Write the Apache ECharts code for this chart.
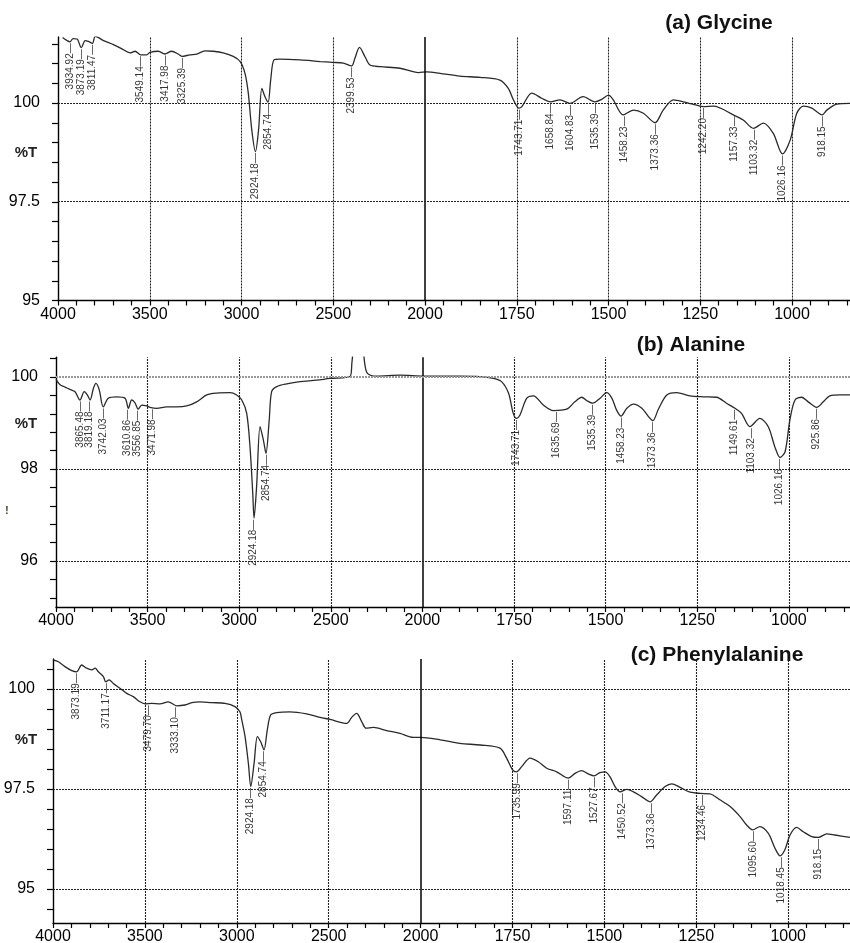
<!DOCTYPE html>
<html>
<head>
<meta charset="utf-8">
<script src="https://cdn.jsdelivr.net/npm/echarts@6/dist/echarts.min.js"></script>
<style>
  html, body { margin: 0; background: #fff; }
  #main { width: 850px; height: 943px; }
</style>
</head>
<body>
<div id="main"></div>
<script>
// (a) Glycine
var glyWn = [3975,3950,3935,3918,3896,3873,3852,3835,3812,3797,3752,3698,3652,3607,3580,3549,3517,3499,3453,3418,3381,3345,3325,3281,3244,3199,3154,3100,3045,3007,2981,2963,2944,2924,2907,2889,2872,2855,2841,2823,2790,2680,2571,2505,2445,2400,2382,2357,2327,2300,2245,2136,2036,1995,1959,1905,1850,1796,1773,1759,1744,1736,1709,1682,1659,1632,1605,1569,1537,1519,1500,1487,1460,1432,1405,1373,1351,1323,1296,1251,1242,1214,1160,1133,1105,1078,1051,1026,1005,987,969,946,918,905,878,842];
var glyT = [101.66,101.58,101.55,101.63,101.62,101.40,101.58,101.56,101.51,101.69,101.58,101.48,101.37,101.27,101.31,101.22,101.22,101.28,101.31,101.24,101.31,101.24,101.18,101.22,101.24,101.32,101.31,101.27,101.18,101.05,100.75,100.25,99.32,98.77,99.32,100.37,100.16,100.02,100.58,101.09,101.11,101.09,101.05,101.03,101.01,100.94,101.13,101.41,101.17,100.96,100.92,100.88,100.77,100.79,100.75,100.68,100.65,100.58,100.37,100.08,99.87,99.91,100.25,100.12,100.03,100.08,99.99,100.16,100.03,100.09,100.20,100.08,99.70,99.82,99.74,99.50,99.82,100.08,100.03,99.92,99.91,99.92,99.70,99.57,99.36,99.49,99.23,98.71,99.06,99.74,99.92,99.87,99.70,99.82,99.97,99.99];
var glyPk = [3934.92,3873.19,3811.47,3549.14,3417.98,3325.39,2924.18,2854.74,2399.53,1743.71,1658.84,1604.83,1535.39,1458.23,1373.36,1242.20,1157.33,1103.32,1026.16,918.15];
var glyPkT = [101.55,101.40,101.51,101.22,101.24,101.18,98.77,100.02,100.94,99.87,100.03,99.99,100.03,99.70,99.50,99.91,99.70,99.36,98.71,99.70];

// (b) Alanine
var alaWn = [4000,3978,3951,3924,3896,3869,3846,3829,3814,3796,3782,3764,3742,3715,3669,3623,3605,3587,3569,3551,3532,3505,3487,3450,3396,3341,3287,3232,3177,3123,3050,3014,2986,2959,2941,2926,2919,2905,2886,2868,2854,2836,2823,2795,2741,2668,2577,2504,2395,2385,2375,2360,2340,2325,2315,2300,2250,2122,1995,1952,1897,1843,1806,1784,1765,1752,1743,1734,1715,1697,1670,1643,1606,1584,1565,1552,1535,1515,1497,1483,1470,1458,1442,1424,1401,1383,1371,1356,1333,1306,1270,1233,1197,1170,1147,1129,1106,1079,1056,1038,1024,1010,997,983,965,947,924,906,888,860,833];
var alaT = [99.95,99.83,99.78,99.73,99.68,99.50,99.68,99.61,99.50,99.75,99.86,99.72,99.35,99.54,99.57,99.54,99.32,99.50,99.44,99.30,99.39,99.37,99.34,99.32,99.35,99.35,99.37,99.46,99.61,99.65,99.66,99.61,99.50,99.21,98.48,97.47,96.93,97.62,98.92,98.63,98.34,99.07,99.68,99.79,99.85,99.90,99.93,99.97,100.01,100.30,100.70,101.00,101.00,100.70,100.30,100.08,100.02,100.04,100.02,100.02,100.02,100.01,99.97,99.90,99.65,99.21,99.10,99.17,99.54,99.59,99.39,99.27,99.30,99.46,99.56,99.49,99.43,99.54,99.66,99.54,99.28,99.15,99.32,99.41,99.32,99.14,99.05,99.30,99.61,99.66,99.59,99.57,99.56,99.43,99.32,99.21,98.92,99.10,98.92,98.48,98.25,98.38,99.07,99.50,99.56,99.46,99.34,99.46,99.59,99.61,99.61];
var alaPk = [3865.48,3819.18,3742.03,3610.86,3556.85,3471.98,2924.18,2854.74,1743.71,1635.69,1535.39,1458.23,1373.36,1149.61,1103.32,1026.16,925.86];
var alaPkT = [99.50,99.50,99.35,99.32,99.30,99.33,96.93,98.34,99.10,99.27,99.43,99.15,99.05,99.32,98.92,98.25,99.34];

// (c) Phenylalanine
var pheWn = [4000,3971,3935,3898,3871,3844,3817,3789,3771,3753,3726,3713,3695,3672,3636,3599,3563,3527,3499,3463,3418,3373,3327,3282,3245,3200,3137,3064,3010,2983,2973,2955,2937,2924,2906,2888,2870,2852,2834,2816,2783,2711,2620,2547,2493,2402,2375,2348,2320,2297,2257,2185,2112,2040,2000,1947,1893,1838,1784,1766,1750,1739,1725,1702,1680,1657,1630,1598,1580,1562,1544,1528,1512,1498,1485,1471,1457,1439,1421,1399,1376,1358,1335,1317,1294,1267,1240,1213,1186,1158,1131,1113,1097,1077,1054,1036,1022,1009,995,977,959,936,918,895,873,832];
var pheT = [100.73,100.68,100.56,100.46,100.43,100.60,100.52,100.48,100.52,100.43,100.31,100.18,100.23,100.14,100.02,99.89,99.81,99.68,99.63,99.64,99.63,99.68,99.58,99.60,99.66,99.68,99.66,99.64,99.56,99.43,99.23,98.81,98.14,97.56,98.14,98.81,98.68,98.48,98.98,99.35,99.41,99.43,99.38,99.29,99.24,99.14,99.29,99.39,99.18,99.02,99.04,98.96,98.89,98.79,98.79,98.73,98.64,98.60,98.52,98.27,97.98,97.93,98.06,98.27,98.18,98.02,97.93,97.77,97.89,97.96,97.88,97.83,97.91,97.93,97.81,97.56,97.43,97.49,97.43,97.31,97.18,97.35,97.56,97.63,97.54,97.42,97.39,97.38,97.23,97.06,96.81,96.60,96.48,96.56,96.39,96.02,95.83,95.98,96.35,96.54,96.43,96.31,96.29,96.38,96.35,96.29];
var phePk = [3873.19,3711.17,3479.70,3333.10,2924.18,2854.74,1735.99,1597.11,1527.67,1450.52,1373.36,1234.46,1095.60,1018.45,918.15];
var phePkT = [100.43,100.18,99.63,99.58,97.56,98.48,97.93,97.77,97.83,97.43,97.18,97.39,96.48,95.83,96.29];

var FONT = 'Liberation Sans, Arial, sans-serif';
var X_MAX = 8.8;

// the x scale changes at 2000 cm-1: 500 per unit above, 250 per unit below
function wnToPos(w) { return w >= 2000 ? (4000 - w) / 500 : 4 + (2000 - w) / 250; }
function posToWn(t) { return t <= 4 ? 4000 - 500 * t : 2000 - 250 * (t - 4); }

var panels = [
  { title: '(a) Glycine', wn: glyWn, pt: glyT, pk: glyPk, pkT: glyPkT,
    left: 58, ppx: 91.75, y100: 103, ppy: 39.5,
    lineMin: 95, lineMax: 101.67, tickMin: 95, tickMax: 101.5, step: 0.5, labelStep: 2.5,
    hLines: [[100, '#222'], [97.5, '#222']], titleX: 719, titleY: 23, pctY: 153 },
  { title: '(b) Alanine', wn: alaWn, pt: alaT, pk: alaPk, pkT: alaPkT,
    left: 56, ppx: 91.6, y100: 377, ppy: 46,
    lineMin: 95, lineMax: 100.43, tickMin: 95.2, tickMax: 100.4, step: 0.4, labelStep: 2,
    hLines: [[100, '#999'], [98, '#222'], [96, '#222']], titleX: 691, titleY: 345, pctY: 424 },
  { title: '(c) Phenylalanine', wn: pheWn, pt: pheT, pk: phePk, pkT: phePkT,
    left: 53, ppx: 91.9, y100: 689, ppy: 40,
    lineMin: 94.15, lineMax: 100.75, tickMin: 94.5, tickMax: 100.5, step: 0.5, labelStep: 2.5,
    hLines: [[100, '#222'], [97.5, '#222'], [95, '#222']], titleX: 717, titleY: 655, pctY: 740 }
];

var grids = [], xAxes = [], yAxes = [], series = [], graphics = [];

panels.forEach(function (p, i) {
  var py = function (v) { return p.y100 - (v - 100) * p.ppy; };
  var w = X_MAX * p.ppx;
  var g0 = 2 * i, g1 = 2 * i + 1;

  // grid holding the curve, axis lines and x labels
  grids.push({ left: p.left, top: py(p.lineMax), width: w, height: py(p.lineMin) - py(p.lineMax), outerBoundsMode: 'none' });
  // grid used only for the y ticks / labels
  grids.push({ left: p.left, top: py(p.tickMax), width: w, height: py(p.tickMin) - py(p.tickMax), outerBoundsMode: 'none' });

  xAxes.push({
    type: 'value', gridIndex: g0, min: 0, max: X_MAX, interval: 0.2,
    axisLine: { show: true, onZero: false, lineStyle: { color: '#000', width: 1.4 } },
    axisTick: { show: true, length: 5, lineStyle: { color: '#000', width: 1.2 } },
    splitLine: { show: false },
    axisLabel: {
      margin: 6, fontSize: 16, color: '#000', fontFamily: FONT,
      showMinLabel: true, showMaxLabel: false,
      formatter: function (v) {
        return Math.abs(v - Math.round(v)) < 1e-6 ? String(posToWn(Math.round(v))) : '';
      }
    }
  });
  xAxes.push({ type: 'value', gridIndex: g1, min: 0, max: X_MAX, show: false });

  yAxes.push({
    type: 'value', gridIndex: g0, min: p.lineMin, max: p.lineMax,
    axisLine: { show: true, onZero: false, lineStyle: { color: '#000', width: 1.4 } },
    axisTick: { show: false }, axisLabel: { show: false }, splitLine: { show: false }
  });
  yAxes.push({
    type: 'value', gridIndex: g1, min: p.tickMin, max: p.tickMax, interval: p.step,
    axisLine: { show: false },
    axisTick: { show: true, length: 6, lineStyle: { color: '#000', width: 1.2 } },
    splitLine: { show: false },
    axisLabel: {
      margin: 18, fontSize: 16, color: '#000', fontFamily: FONT,
      showMinLabel: true, showMaxLabel: true,
      formatter: function (v) {
        var r = v / p.labelStep;
        return Math.abs(r - Math.round(r)) < 1e-6 ? String(+v.toFixed(2)) : '';
      }
    }
  });

  var vLines = [1, 2, 3, 4, 5, 6, 7, 8].map(function (t) {
    return t === 4
      ? { xAxis: t, lineStyle: { type: 'solid', color: '#000', width: 1.5 } }
      : { xAxis: t, lineStyle: { type: [2, 1], color: '#222', width: 1.1 } };
  });
  var hLines = p.hLines.map(function (h) {
    return { yAxis: h[0], lineStyle: { type: [2, 1], color: h[1], width: h[1] === '#999' ? 1.8 : 1.1 } };
  });

  series.push({
    type: 'line', xAxisIndex: g0, yAxisIndex: g0,
    data: p.wn.map(function (x, k) { return [wnToPos(x), p.pt[k]]; }),
    showSymbol: false, smooth: 0.3, clip: true, silent: true,
    lineStyle: { color: '#2a2a2a', width: 1.3 },
    markLine: {
      silent: true, symbol: ['none', 'none'], label: { show: false },
      animation: false, data: vLines.concat(hLines)
    },
    z: 3
  });

  series.push({
    type: 'scatter', xAxisIndex: g0, yAxisIndex: g0,
    data: p.pk.map(function (x, k) { return { value: [wnToPos(x), p.pkT[k]], name: x.toFixed(2) }; }),
    symbolSize: 1, itemStyle: { color: 'rgba(0,0,0,0)' }, silent: true,
    label: {
      show: true, position: 'bottom', distance: 1, rotate: 90,
      align: 'right', verticalAlign: 'middle',
      fontSize: 10, fontFamily: FONT, color: '#000',
      formatter: function (d) { return d.name + '\u2014'; }
    },
    z: 4
  });

  graphics.push({
    type: 'text', x: p.titleX, y: p.titleY,
    style: { text: p.title, font: 'bold 21px ' + FONT, fill: '#111', align: 'center', verticalAlign: 'middle' }
  });
  graphics.push({
    type: 'text', x: 26, y: p.pctY,
    style: { text: '%T', font: 'bold 15px ' + FONT, fill: '#222', align: 'center', verticalAlign: 'middle' }
  });
});

graphics.push({
  type: 'text', x: 7, y: 511,
  style: { text: '!', font: 'bold 10px ' + FONT, fill: '#3a2a1a', align: 'center', verticalAlign: 'middle' }
});

var option = {
  backgroundColor: '#fff',
  animation: false,
  grid: grids,
  xAxis: xAxes,
  yAxis: yAxes,
  series: series,
  graphic: graphics
};

var myChart = echarts.init(document.getElementById('main'));
myChart.setOption(option);
</script>
</body>
</html>
